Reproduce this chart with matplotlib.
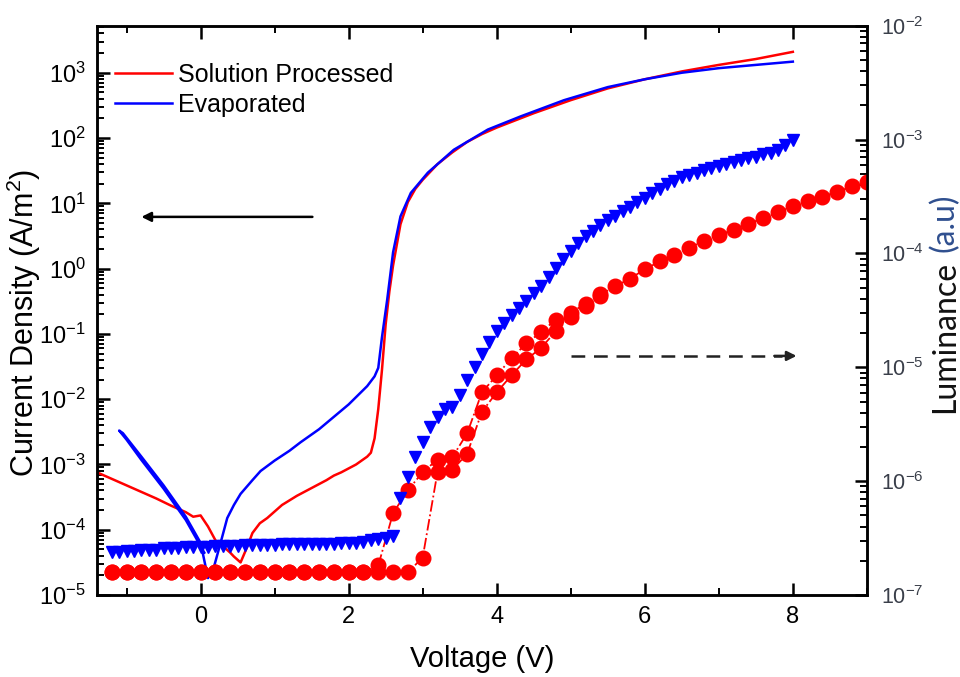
import numpy as np
import matplotlib
matplotlib.use("Agg")
import matplotlib.pyplot as plt
from matplotlib.ticker import LogLocator, MultipleLocator, NullFormatter

# current density (log10 of A/m^2) vs voltage
sol_jv_v = [-1.4, -1.2, -1.0, -0.8, -0.6, -0.4, -0.2, -0.1, 0.0,
            0.1, 0.2, 0.3, 0.4, 0.45, 0.54, 0.63, 0.7, 0.8, 0.9,
            1.0, 1.1, 1.2, 1.3, 1.4, 1.5, 1.6, 1.7, 1.8, 1.9, 2.0, 2.1, 2.2,
            2.25, 2.3, 2.35, 2.4, 2.45, 2.5, 2.55, 2.6,
            2.7, 2.8, 2.9, 3.0, 3.2, 3.4, 3.6, 3.8, 4.0,
            4.5, 5.0, 5.5, 6.0, 6.5, 7.0, 7.5, 8.0]
sol_jv_log = [-3.12, -3.22, -3.32, -3.42, -3.52, -3.63, -3.73, -3.80, -3.78,
              -3.95, -4.16, -4.25, -4.35, -4.41, -4.50, -4.26, -4.05, -3.90, -3.82,
              -3.72, -3.62, -3.55, -3.48, -3.42, -3.36, -3.30, -3.24, -3.17, -3.12, -3.06, -3.00, -2.92,
              -2.88, -2.82, -2.60, -2.15, -1.55, -0.85, -0.35, 0.05,
              0.68, 1.02, 1.22, 1.36, 1.60, 1.78, 1.94, 2.06, 2.16,
              2.38, 2.58, 2.76, 2.90, 3.02, 3.12, 3.21, 3.32]

evap_jv_v = [0.05, -0.2, -0.5, -0.8, -1.0, -1.1, -1.05, -0.8, -0.5, -0.2, 0.0, 0.1,
             0.18, 0.27, 0.36, 0.45, 0.54, 0.7, 0.81, 1.0, 1.2, 1.35, 1.6, 1.8, 2.0,
             2.25, 2.35, 2.4, 2.45, 2.52, 2.6, 2.7, 2.84, 3.07, 3.42, 3.88, 4.32, 4.91,
             5.5, 6.0, 6.5, 7.0, 7.5, 8.0]
evap_jv_log = [-4.35, -3.85, -3.37, -2.93, -2.62, -2.48, -2.52, -2.88, -3.32, -3.80, -4.20, -4.74,
               -4.57, -4.20, -3.82, -3.62, -3.45, -3.24, -3.10, -2.94, -2.79, -2.66, -2.46, -2.27, -2.08,
               -1.80, -1.65, -1.52, -1.05, -0.48, 0.25, 0.80, 1.16, 1.47, 1.82, 2.13, 2.33, 2.58,
               2.78, 2.90, 3.00, 3.07, 3.12, 3.17]

# luminance (log10 of a.u.) vs voltage
evap_lum_v = [-1.2, -1.1, -1.0, -0.9, -0.8, -0.7, -0.6, -0.5, -0.4, -0.3,
              -0.2, -0.1, 0.0, 0.1, 0.2, 0.3, 0.4, 0.5, 0.6, 0.7,
              0.8, 0.9, 1.0, 1.1, 1.2, 1.3, 1.4, 1.5, 1.6, 1.7,
              1.8, 1.9, 2.0, 2.1, 2.2, 2.3, 2.4, 2.5, 2.6, 2.7,
              2.8, 2.9, 3.0, 3.1, 3.2, 3.3, 3.4, 3.5, 3.6, 3.7,
              3.8, 3.9, 4.0, 4.1, 4.2, 4.3, 4.4, 4.5, 4.6, 4.7,
              4.8, 4.9, 5.0, 5.1, 5.2, 5.3, 5.4, 5.5, 5.6, 5.7,
              5.8, 5.9, 6.0, 6.1, 6.2, 6.3, 6.4, 6.5, 6.6, 6.7,
              6.8, 6.9, 7.0, 7.1, 7.2, 7.3, 7.4, 7.5, 7.6, 7.7,
              7.8, 7.9, 8.0]
evap_lum_log = [-6.62, -6.62, -6.61, -6.61, -6.60, -6.60, -6.60, -6.59, -6.59, -6.59,
                -6.58, -6.58, -6.58, -6.58, -6.57, -6.57, -6.57, -6.57, -6.56, -6.56,
                -6.56, -6.56, -6.56, -6.55, -6.55, -6.55, -6.55, -6.55, -6.55, -6.55,
                -6.55, -6.54, -6.54, -6.54, -6.53, -6.52, -6.51, -6.50, -6.48, -6.15,
                -5.96, -5.79, -5.66, -5.52, -5.44, -5.37, -5.35, -5.24, -5.11, -5.00,
                -4.88, -4.78, -4.68, -4.61, -4.54, -4.48, -4.42, -4.35, -4.29, -4.21,
                -4.13, -4.05, -3.98, -3.91, -3.85, -3.80, -3.75, -3.71, -3.67, -3.63,
                -3.59, -3.55, -3.51, -3.47, -3.43, -3.39, -3.36, -3.33, -3.31, -3.29,
                -3.27, -3.25, -3.23, -3.21, -3.20, -3.18, -3.16, -3.15, -3.13, -3.12,
                -3.09, -3.05, -3.00]

sol_lum_a_v = [-1.2, -1.0, -0.8, -0.6, -0.4, -0.2, 0.0, 0.2, 0.4, 0.6,
               0.8, 1.0, 1.2, 1.4, 1.6, 1.8, 2.0, 2.2, 2.4, 2.6,
               2.8, 3.0, 3.2, 3.4, 3.6, 3.8, 4.0, 4.2, 4.4, 4.6,
               4.8, 5.0, 5.2, 5.4, 5.6, 5.8, 6.0, 6.2, 6.4, 6.6,
               6.8, 7.0, 7.2, 7.4, 7.6, 7.8, 8.0, 8.2, 8.4, 8.6,
               8.8, 9.0]
sol_lum_a_log = [-6.80, -6.80, -6.80, -6.80, -6.80, -6.80, -6.80, -6.80, -6.80, -6.80,
                 -6.80, -6.80, -6.80, -6.80, -6.80, -6.80, -6.80, -6.80, -6.74, -6.28,
                 -6.08, -5.92, -5.81, -5.79, -5.58, -5.22, -5.07, -4.92, -4.79, -4.69,
                 -4.58, -4.52, -4.44, -4.36, -4.29, -4.22, -4.14, -4.07, -4.01, -3.95,
                 -3.89, -3.84, -3.79, -3.74, -3.69, -3.64, -3.58, -3.54, -3.50, -3.46,
                 -3.41, -3.37]

sol_lum_b_v = [-1.2, -1.0, -0.8, -0.6, -0.4, -0.2, 0.0, 0.2, 0.4, 0.6,
               0.8, 1.0, 1.2, 1.4, 1.6, 1.8, 2.0, 2.2, 2.4, 2.6,
               2.8, 3.0, 3.2, 3.4, 3.6, 3.8, 4.0, 4.2, 4.4, 4.6,
               4.8, 5.0, 5.2, 5.4]
sol_lum_b_log = [-6.80, -6.80, -6.80, -6.80, -6.80, -6.80, -6.80, -6.80, -6.80, -6.80,
                 -6.80, -6.80, -6.80, -6.80, -6.80, -6.80, -6.80, -6.80, -6.80, -6.80,
                 -6.80, -6.67, -5.92, -5.90, -5.76, -5.39, -5.22, -5.07, -4.93, -4.83,
                 -4.68, -4.56, -4.46, -4.37]

RED = "#ff0000"
BLUE = "#0000ff"

plt.rcParams["font.family"] = ["Liberation Sans", "DejaVu Sans"]
plt.rcParams["mathtext.default"] = "regular"
plt.rcParams["axes.unicode_minus"] = False

fig = plt.figure(figsize=(9.6, 6.77), dpi=100)
ax = fig.add_axes([0.101, 0.121, 0.802, 0.841])
ax2 = ax.twinx()

l1, = ax.plot(sol_jv_v, np.power(10.0, sol_jv_log), color=RED, lw=1.8,
              label="Solution Processed")
l2, = ax.plot(evap_jv_v, np.power(10.0, evap_jv_log), color=BLUE, lw=1.8,
              label="Evaporated")

ax2.plot(sol_lum_b_v, np.power(10.0, sol_lum_b_log), color=RED, lw=1.3, ls="-.",
         marker="o", ms=10.5, mec=RED, mfc=RED)
ax2.plot(sol_lum_a_v, np.power(10.0, sol_lum_a_log), color=RED, lw=1.3, ls="-.",
         marker="o", ms=10.5, mec=RED, mfc=RED)
ax2.plot(evap_lum_v, np.power(10.0, evap_lum_log), ls="none",
         marker="v", ms=9, mec=BLUE, mfc=BLUE)

ax.set_xlim(-1.4, 9.0)
ax.set_yscale("log")
ax.set_ylim(1e-5, 10 ** 3.72)
ax2.set_yscale("log")
ax2.set_ylim(1e-7, 1e-2)

ax.xaxis.set_major_locator(MultipleLocator(2))
ax.xaxis.set_minor_locator(MultipleLocator(1))
for a in (ax, ax2):
    a.yaxis.set_major_locator(LogLocator(base=10, numticks=20))
    a.yaxis.set_minor_locator(LogLocator(base=10, subs=np.arange(2, 10), numticks=20))
    a.yaxis.set_minor_formatter(NullFormatter())
    for s in a.spines.values():
        s.set_linewidth(1.8)

ax.tick_params(which="major", direction="in", length=9, width=1.8, labelsize=17,
               top=True, right=False, pad=8)
ax.tick_params(which="minor", direction="in", length=5, width=1.4, top=True, right=False)
ax2.tick_params(which="major", direction="in", length=9, width=1.8, labelsize=15.5,
                pad=10, labelcolor="#3a3f4a")
ax2.tick_params(which="minor", direction="in", length=5, width=1.4)

ax.set_xlabel("Voltage (V)", fontsize=21, labelpad=12)
ax.set_ylabel("Current Density (A/m$^2$)", fontsize=22)
ax.yaxis.set_label_coords(-0.07, 0.478)

fig.text(0.984, 0.39, "Luminance", rotation=90, ha="center", va="bottom",
         fontsize=23, family=["Lato", "DejaVu Sans"], color="#111111")
fig.text(0.984, 0.628, "(a.u)", rotation=90, ha="center", va="bottom",
         fontsize=23, family=["Lato", "DejaVu Sans"], color="#2f4f8f")

ax2.legend(handles=[l1, l2], loc="upper left", bbox_to_anchor=(0.023, 0.935),
           frameon=False, fontsize=18, handlelength=2.3, handletextpad=0.25,
           labelspacing=0.25, borderpad=0, borderaxespad=0)

# arrows pointing to the matching axes
ax.annotate("", xy=(-0.8, 6.2), xytext=(1.51, 6.2),
            arrowprops=dict(arrowstyle="-|>", color="black", lw=1.8,
                            mutation_scale=14, shrinkA=0, shrinkB=0))
ax2.plot([5.0, 7.85], [1.26e-5, 1.26e-5], color="#222222", lw=1.8, ls=(0, (5.5, 3.5)))
ax2.annotate("", xy=(8.05, 1.26e-5), xytext=(7.75, 1.26e-5),
             arrowprops=dict(arrowstyle="-|>", color="#222222", lw=1.8,
                             mutation_scale=14, shrinkA=0, shrinkB=0))

fig.savefig("out.png", dpi=100)
